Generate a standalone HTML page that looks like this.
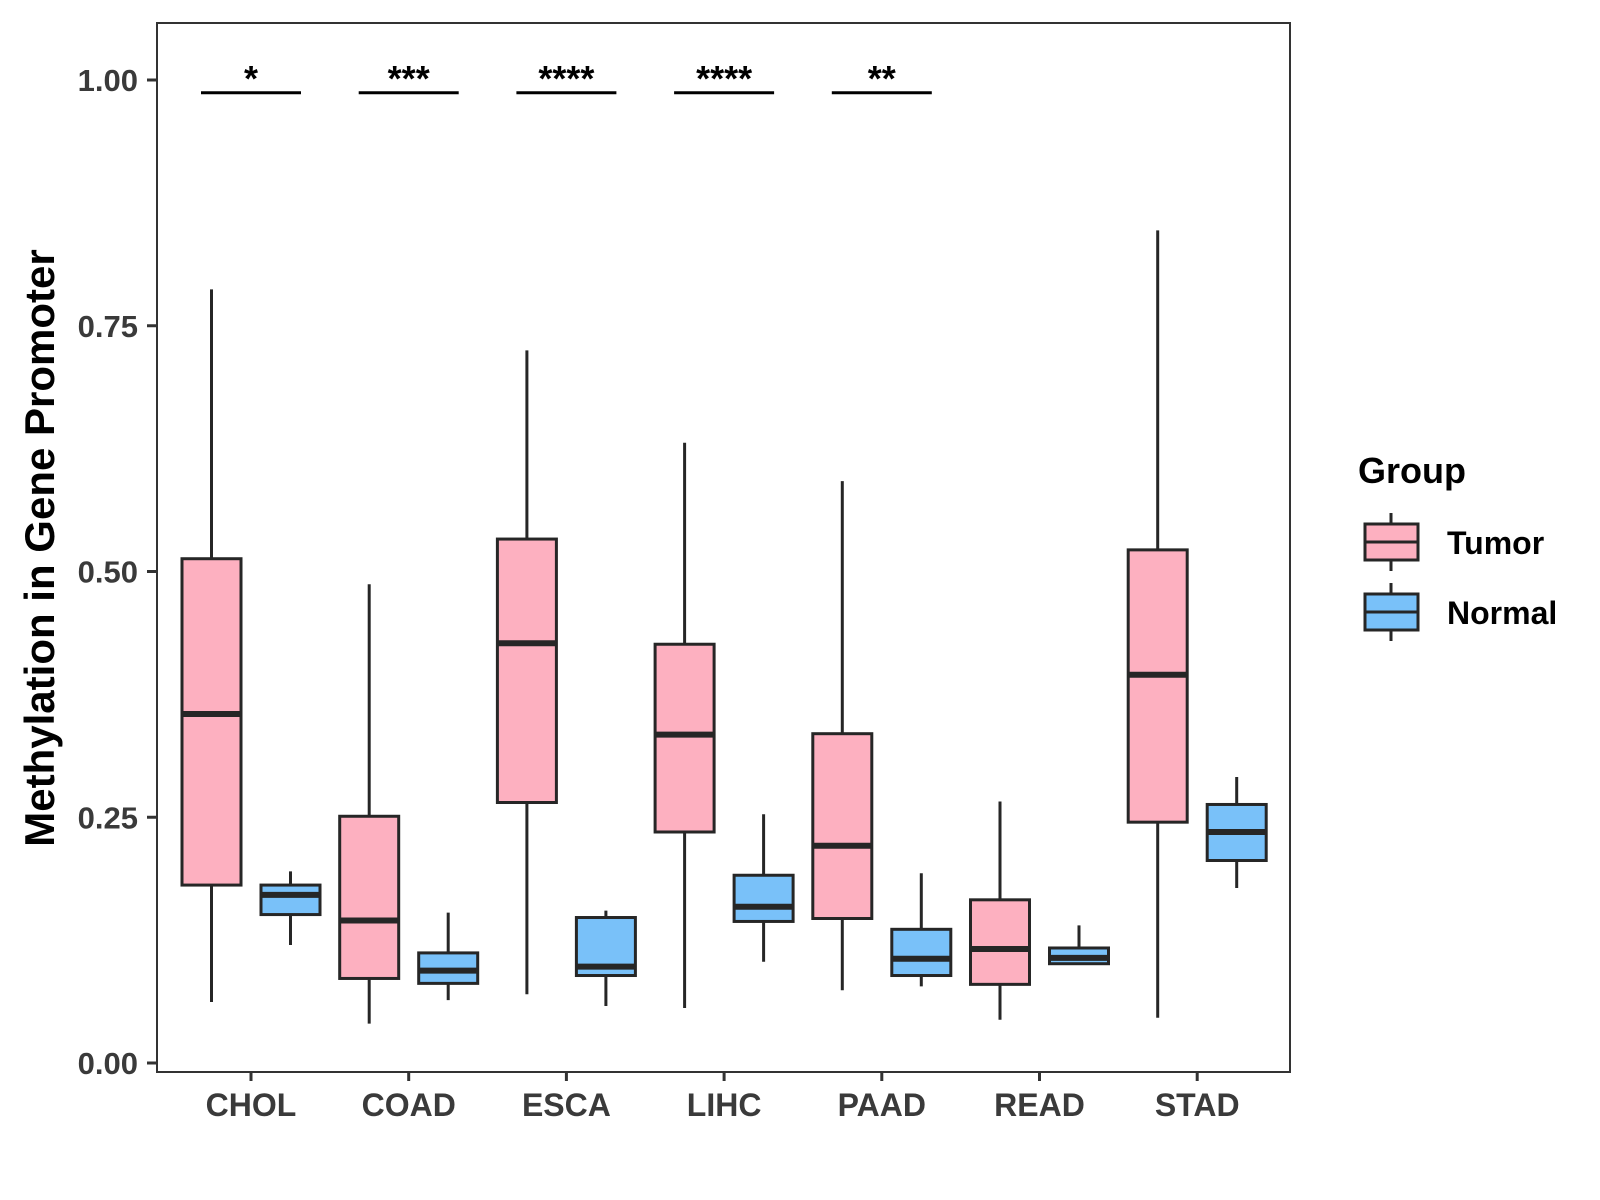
<!DOCTYPE html>
<html><head><meta charset="utf-8"><style>
html,body{margin:0;padding:0;background:#fff;}
svg{display:block;font-family:"Liberation Sans",Arial,sans-serif;}
</style></head><body>
<svg id="chart" width="1600" height="1200" viewBox="0 0 1600 1200">
<rect x="0" y="0" width="1600" height="1200" fill="#fff"/>
<g id="marks"></g>
<rect x="157" y="23" width="1133" height="1049" fill="none" stroke="#333" stroke-width="2"/>
<g id="axes"></g>
<text x="0" y="0" transform="translate(54,548) rotate(-90)" text-anchor="middle" font-size="42" font-weight="bold" fill="#000">Methylation in Gene Promoter</text>
<g>
<text x="1358" y="483" font-size="36" font-weight="bold" fill="#000">Group</text>
<g>
<line x1="1391" y1="513" x2="1391" y2="571" stroke="#262626" stroke-width="3"/>
<rect x="1365" y="524" width="53" height="36" fill="#FDB0C0" stroke="#262626" stroke-width="3"/>
<line x1="1365" y1="542" x2="1418" y2="542" stroke="#262626" stroke-width="3"/>
<text x="1447" y="554" font-size="32" font-weight="bold" fill="#000">Tumor</text>
</g>
<g>
<line x1="1391" y1="583" x2="1391" y2="641" stroke="#262626" stroke-width="3"/>
<rect x="1365" y="594" width="53" height="36" fill="#79C1F9" stroke="#262626" stroke-width="3"/>
<line x1="1365" y1="612" x2="1418" y2="612" stroke="#262626" stroke-width="3"/>
<text x="1447" y="624" font-size="32" font-weight="bold" fill="#000">Normal</text>
</g>
</g>
</svg>
<script>
const categories = ["CHOL","COAD","ESCA","LIHC","PAAD","READ","STAD"];
// [min, q1, median, q3, max]
const tumorStats = [
 [0.062,0.181,0.355,0.513,0.787],
 [0.040,0.086,0.145,0.251,0.487],
 [0.070,0.265,0.427,0.533,0.725],
 [0.056,0.235,0.334,0.426,0.631],
 [0.074,0.147,0.221,0.335,0.592],
 [0.044,0.080,0.116,0.166,0.266],
 [0.046,0.245,0.395,0.522,0.847]
];
const normalStats = [
 [0.120,0.151,0.171,0.181,0.195],
 [0.064,0.081,0.094,0.112,0.153],
 [0.058,0.089,0.098,0.148,0.155],
 [0.103,0.144,0.159,0.191,0.253],
 [0.078,0.089,0.106,0.136,0.193],
 [0.101,0.101,0.107,0.117,0.140],
 [0.178,0.206,0.235,0.263,0.291]
];
const yTicks = [0,0.25,0.5,0.75,1.0];
const yTickLabels = ["0.00","0.25","0.50","0.75","1.00"];
const sigLabels = ["*","***","****","****","**"];
const sigY = 0.987;

const NS="http://www.w3.org/2000/svg";
function yScale(v){return 1063 - v*983;}
function xScale(i){return 251 + i*157.7;}
const boxW=59, off=39.5;
const marks=document.getElementById('marks');
const axes=document.getElementById('axes');
function mk(tag,attrs,parent){const e=document.createElementNS(NS,tag);for(const k in attrs)e.setAttribute(k,attrs[k]);parent.appendChild(e);return e;}

function drawBox(s,cx,fill,name){
  const g=mk('g',{},marks);
  
  
  mk('line',{x1:cx,x2:cx,y1:yScale(s[4]),y2:yScale(s[0]),stroke:'#262626','stroke-width':3},g);
  mk('rect',{x:cx-boxW/2,y:yScale(s[3]),width:boxW,height:yScale(s[1])-yScale(s[3]),fill:fill,stroke:'#262626','stroke-width':3},g);
  mk('line',{x1:cx-boxW/2,x2:cx+boxW/2,y1:yScale(s[2]),y2:yScale(s[2]),stroke:'#262626','stroke-width':6},g);
}
categories.forEach((c,i)=>{
  drawBox(tumorStats[i],xScale(i)-off,'#FDB0C0','box-tumor-'+c.toLowerCase());
  drawBox(normalStats[i],xScale(i)+off,'#79C1F9','box-normal-'+c.toLowerCase());
  mk('line',{x1:xScale(i),x2:xScale(i),y1:1072,y2:1081,stroke:'#333','stroke-width':3},axes);
  const lbl=mk('text',{x:xScale(i),y:1116,'text-anchor':'middle','font-size':32,'font-weight':'bold',fill:'#3a3a3a'},axes);
  lbl.textContent=c;
  
  
});
sigLabels.forEach((s,i)=>{
  const y=yScale(sigY);
  const g=mk('g',{},marks);
  
  
  mk('line',{x1:xScale(i)-50,x2:xScale(i)+50,y1:y,y2:y,stroke:'#000','stroke-width':3},g);
  const t=mk('text',{x:xScale(i),y:y-2,'text-anchor':'middle','font-size':36,'font-weight':'bold',fill:'#000'},g);
  t.textContent=s;
});
yTicks.forEach((v,i)=>{
  mk('line',{x1:147,x2:157,y1:yScale(v),y2:yScale(v),stroke:'#333','stroke-width':3},axes);
  const t=mk('text',{x:138,y:yScale(v)+11,'text-anchor':'end','font-size':31,'font-weight':'bold',fill:'#3a3a3a'},axes);
  t.textContent=yTickLabels[i];
  
  
});
</script>
</body></html>
